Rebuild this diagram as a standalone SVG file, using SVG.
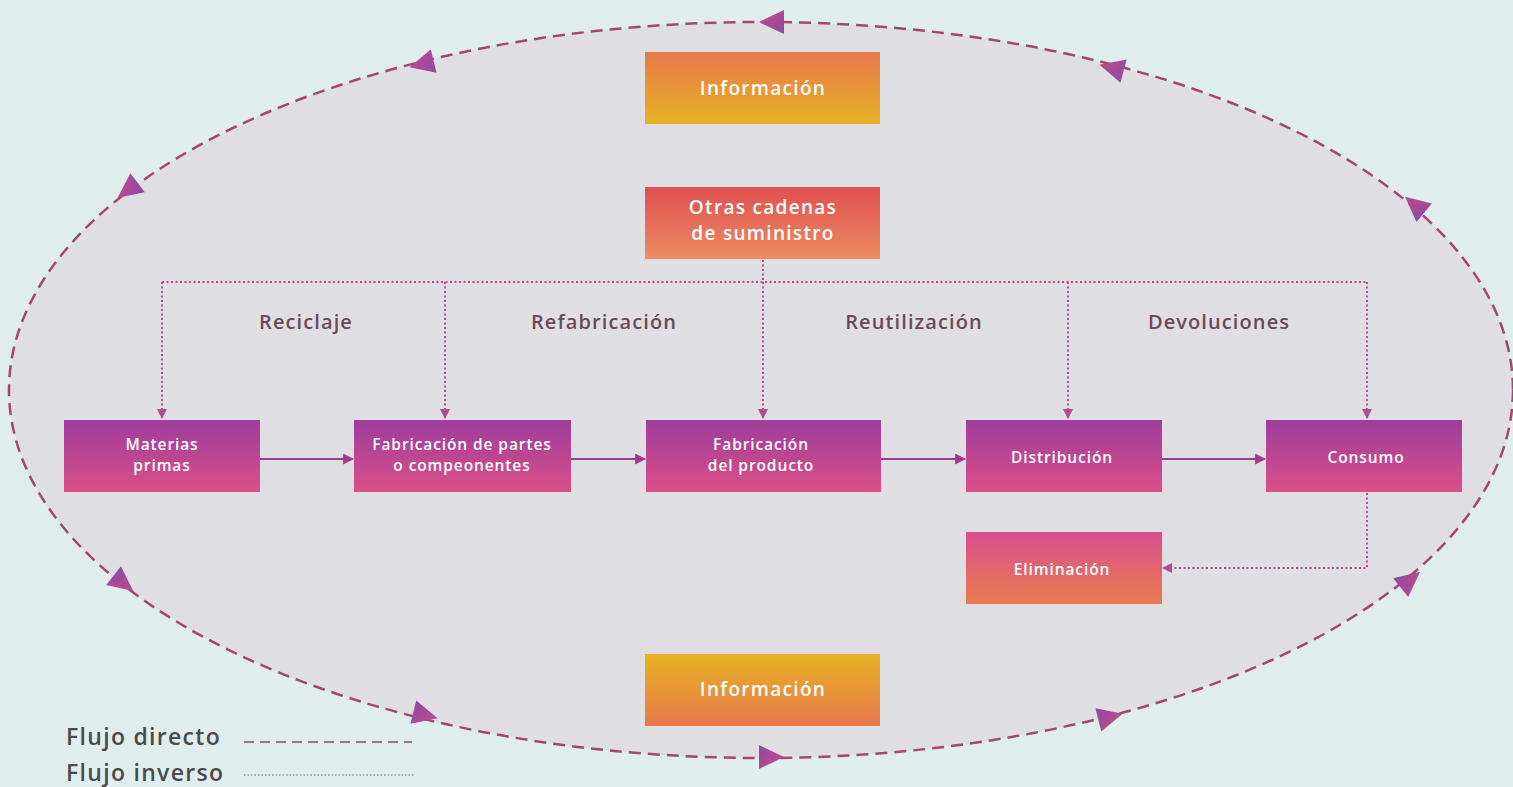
<svg xmlns="http://www.w3.org/2000/svg" xmlns:xlink="http://www.w3.org/1999/xlink" width="1513" height="787" viewBox="0 0 1513 787">
  <defs>
    <linearGradient id="gInfoTop" x1="0" y1="0" x2="0" y2="1">
      <stop offset="0" stop-color="#e8784c"/>
      <stop offset="1" stop-color="#e8b224"/>
    </linearGradient>
    <linearGradient id="gInfoBot" x1="0" y1="0" x2="0" y2="1">
      <stop offset="0" stop-color="#e8b224"/>
      <stop offset="1" stop-color="#e8784c"/>
    </linearGradient>
    <linearGradient id="gRed" x1="0" y1="0" x2="0" y2="1">
      <stop offset="0" stop-color="#e04f50"/>
      <stop offset="1" stop-color="#ec8c62"/>
    </linearGradient>
    <linearGradient id="gPurple" x1="0" y1="0" x2="0" y2="1">
      <stop offset="0" stop-color="#9e3c9c"/>
      <stop offset="1" stop-color="#da5088"/>
    </linearGradient>
    <linearGradient id="gPink" x1="0" y1="0" x2="0" y2="1">
      <stop offset="0" stop-color="#d84e8c"/>
      <stop offset="1" stop-color="#ea7c50"/>
    </linearGradient>
    <linearGradient id="gTri" x1="0" y1="0" x2="1" y2="1">
      <stop offset="0" stop-color="#8c4aa6"/>
      <stop offset="1" stop-color="#c84a82"/>
    </linearGradient>
    <path id="tri" d="M13,0 L-12,-12 L-12,12 Z" fill="url(#gTri)"/>
    <marker id="arrSolid" viewBox="0 0 10 10" refX="9" refY="5" markerWidth="11" markerHeight="11" markerUnits="userSpaceOnUse" orient="auto">
      <path d="M0,0 L10,5 L0,10 Z" fill="#9c3c8c"/>
    </marker>
    <marker id="arrDot" viewBox="0 0 10 10" refX="9" refY="5" markerWidth="10" markerHeight="10" markerUnits="userSpaceOnUse" orient="auto">
      <path d="M0,0 L10,5 L0,10 Z" fill="#b04c90"/>
    </marker>
    <style>
      .box-text { font-family: "Open Sans", "Liberation Sans", sans-serif; font-weight: 600; fill: #ffffff; text-anchor: middle; }
      .big { font-size: 19px; letter-spacing: 1.3px; }
      .small { font-size: 15.5px; letter-spacing: 0.9px; }
      .label { font-family: "Open Sans", "Liberation Sans", sans-serif; font-weight: 600; font-size: 20px; letter-spacing: 1.1px; fill: #6b4a58; text-anchor: middle; }
      .legend { font-family: "Open Sans", "Liberation Sans", sans-serif; font-weight: 600; font-size: 23px; letter-spacing: 1.3px; fill: #4a4a4a; }
      .flow { fill: none; stroke: #9c3c8c; stroke-width: 2; }
      .inverse { fill: none; stroke: #b04c90; stroke-width: 2; stroke-dasharray: 2 2.5; }
    </style>
  </defs>

  <!-- background -->
  <rect x="0" y="0" width="1513" height="787" fill="#dfeeed"/>

  <!-- outer information loop -->
  <g id="loop">
    <ellipse cx="761" cy="390" rx="752" ry="368" fill="#dfdfe3" stroke="#a2476f" stroke-width="2.5" stroke-dasharray="12 7"/>
    <use xlink:href="#tri" transform="translate(772,22) rotate(180)"/>
    <use xlink:href="#tri" transform="translate(422,64) rotate(166)"/>
    <use xlink:href="#tri" transform="translate(128,190) rotate(143)"/>
    <use xlink:href="#tri" transform="translate(123,583) rotate(38)"/>
    <use xlink:href="#tri" transform="translate(425,715) rotate(14)"/>
    <use xlink:href="#tri" transform="translate(771,757) rotate(0)"/>
    <use xlink:href="#tri" transform="translate(1110,717) rotate(-14)"/>
    <use xlink:href="#tri" transform="translate(1410,580) rotate(-39)"/>
    <use xlink:href="#tri" transform="translate(1415,205) rotate(-140)"/>
    <use xlink:href="#tri" transform="translate(1112,68) rotate(-165)"/>
  </g>

  <!-- connectors -->
  <g id="connectors">
    <line class="flow" x1="260" y1="459" x2="353" y2="459" marker-end="url(#arrSolid)"/>
    <line class="flow" x1="571" y1="459" x2="645" y2="459" marker-end="url(#arrSolid)"/>
    <line class="flow" x1="881" y1="459" x2="965" y2="459" marker-end="url(#arrSolid)"/>
    <line class="flow" x1="1162" y1="459" x2="1265" y2="459" marker-end="url(#arrSolid)"/>

    <line class="inverse" x1="162" y1="282" x2="1367" y2="282"/>
    <line class="inverse" x1="763" y1="260" x2="763" y2="282"/>
    <line class="inverse" x1="162" y1="282" x2="162" y2="418" marker-end="url(#arrDot)"/>
    <line class="inverse" x1="445" y1="282" x2="445" y2="418" marker-end="url(#arrDot)"/>
    <line class="inverse" x1="763" y1="282" x2="763" y2="418" marker-end="url(#arrDot)"/>
    <line class="inverse" x1="1068" y1="282" x2="1068" y2="418" marker-end="url(#arrDot)"/>
    <line class="inverse" x1="1367" y1="282" x2="1367" y2="418" marker-end="url(#arrDot)"/>
    <polyline class="inverse" points="1367,493 1367,568 1163,568" marker-end="url(#arrDot)"/>
  </g>

  <!-- flow labels -->
  <g id="labels">
    <text class="label" x="306" y="329">Reciclaje</text>
    <text class="label" x="604" y="329">Refabricación</text>
    <text class="label" x="914" y="329">Reutilización</text>
    <text class="label" x="1219" y="329">Devoluciones</text>
  </g>

  <g id="info-top">
    <rect x="645" y="52" width="235" height="72" fill="url(#gInfoTop)"/>
    <text class="box-text big" x="763" y="95">Información</text>
  </g>

  <g id="otras-cadenas">
    <rect x="645" y="187" width="235" height="72" fill="url(#gRed)"/>
    <text class="box-text big" x="763" y="214">Otras cadenas</text>
    <text class="box-text big" x="763" y="240">de suministro</text>
  </g>

  <g id="materias-primas">
    <rect x="64" y="420" width="196" height="72" fill="url(#gPurple)"/>
    <text class="box-text small" x="162" y="450">Materias</text>
    <text class="box-text small" x="162" y="471">primas</text>
  </g>

  <g id="fabricacion-partes">
    <rect x="354" y="420" width="217" height="72" fill="url(#gPurple)"/>
    <text class="box-text small" x="462" y="450">Fabricación de partes</text>
    <text class="box-text small" x="462" y="471">o compeonentes</text>
  </g>

  <g id="fabricacion-producto">
    <rect x="646" y="420" width="235" height="72" fill="url(#gPurple)"/>
    <text class="box-text small" x="761" y="450">Fabricación</text>
    <text class="box-text small" x="761" y="471">del producto</text>
  </g>

  <g id="distribucion">
    <rect x="966" y="420" width="196" height="72" fill="url(#gPurple)"/>
    <text class="box-text small" x="1062" y="463">Distribución</text>
  </g>

  <g id="consumo">
    <rect x="1266" y="420" width="196" height="72" fill="url(#gPurple)"/>
    <text class="box-text small" x="1366" y="463">Consumo</text>
  </g>

  <g id="eliminacion">
    <rect x="966" y="532" width="196" height="72" fill="url(#gPink)"/>
    <text class="box-text small" x="1062" y="575">Eliminación</text>
  </g>

  <g id="info-bottom">
    <rect x="645" y="654" width="235" height="72" fill="url(#gInfoBot)"/>
    <text class="box-text big" x="763" y="696">Información</text>
  </g>

  <!-- legend -->
  <g id="legend">
    <text class="legend" x="66" y="745">Flujo directo</text>
    <line x1="244" y1="742" x2="412" y2="742" stroke="#957590" stroke-width="2" stroke-dasharray="10 6"/>
    <text class="legend" x="66" y="781">Flujo inverso</text>
    <line x1="244" y1="775" x2="414" y2="775" stroke="#9a8a98" stroke-width="1.5" stroke-dasharray="1.5 2"/>
  </g>
</svg>
